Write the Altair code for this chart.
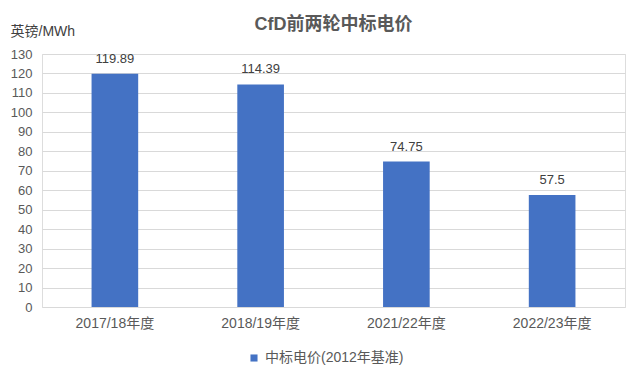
import altair as alt
import pandas as pd

categories = ["2017/18年度", "2018/19年度", "2021/22年度", "2022/23年度"]
values = [119.89, 114.39, 74.75, 57.5]
labels = ["119.89", "114.39", "74.75", "57.5"]
series = "中标电价(2012年基准)"
y_ticks = list(range(0, 131, 10))

df = pd.DataFrame({"cat": categories, "val": values, "lab": labels, "series": [series] * 4})

FONT = "Liberation Sans, Noto Sans CJK SC"

base = alt.Chart(df).encode(
    x=alt.X("cat:N", sort=categories,
            scale=alt.Scale(paddingInner=0.68, paddingOuter=0.34),
            axis=alt.Axis(title=None, labelAngle=0, ticks=False, domain=False,
                          labelFont=FONT, labelFontSize=14, labelColor="#595959",
                          labelPadding=9)),
)

yaxis = alt.Axis(values=y_ticks, title="英镑/MWh", titleAngle=0,
                 titleX=-32, titleY=-16, titleAlign="left",
                 titleFont=FONT, titleFontSize=14, titleFontWeight="normal",
                 titleColor="#404040", labelOverlap=False,
                 labelFont=FONT, labelFontSize=13, labelColor="#595959",
                 ticks=False, domain=False, gridColor="#d9d9d9",
                 labelPadding=10)
yscale = alt.Scale(domain=[0, 130], nice=False)

bars = base.mark_bar(color="#4472C4").encode(
    y=alt.Y("val:Q", scale=yscale, axis=yaxis),
    color=alt.Color("series:N", scale=alt.Scale(range=["#4472C4"]),
                    legend=alt.Legend(title=None, orient="none", legendX=205, legendY=297,
                                      symbolType="square", symbolSize=50,
                                      labelFont=FONT, labelFontSize=14,
                                      labelColor="#595959")),
)

text = base.mark_text(baseline="bottom", dy=-8, font=FONT, fontSize=13,
                      color="#404040").encode(
    y=alt.Y("val:Q", scale=yscale, axis=yaxis),
    text="lab:N",
)

chart = (bars + text).properties(
    width=583, height=253,
    title=alt.TitleParams("CfD前两轮中标电价", font=FONT, fontSize=18,
                          fontWeight="bold", color="#595959", anchor="middle",
                          offset=0, dy=10),
    autosize=alt.AutoSizeParams(type="none"),
    padding={"left": 42, "top": 54, "right": 15, "bottom": 61},
).configure_view(stroke=None).configure(background="white")

chart.save("out.html", embed_options={"renderer": "svg", "actions": False})
